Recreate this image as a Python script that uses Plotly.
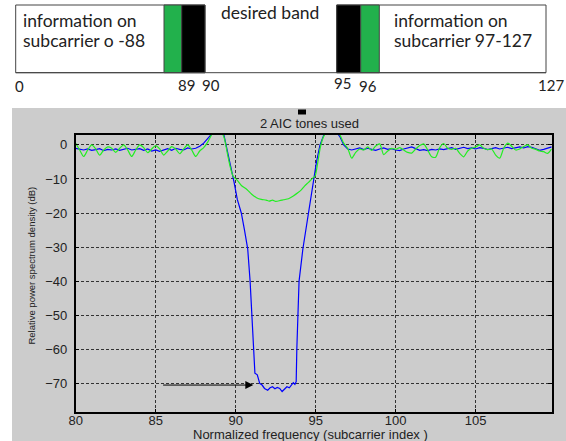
import plotly.graph_objects as go

# ---------------- data: PSD curves ----------------
blue_x = [80.0, 80.25, 80.5, 80.75, 81.0, 81.25, 81.5, 81.75, 82.0, 82.25, 82.5, 82.75,
          83.0, 83.25, 83.5, 83.75, 84.0, 84.25, 84.5, 84.75, 85.0, 85.25, 85.5, 85.75,
          86.0, 86.25, 86.5, 86.75, 87.0, 87.25, 87.5, 87.75, 88.0, 88.25, 88.5, 88.75,
          89.0, 89.25, 89.5, 89.75, 89.9, 90.1, 90.35, 90.55, 90.75, 90.9, 91.0, 91.1,
          91.15, 91.2, 91.35, 91.5, 91.65, 91.8, 92.0, 92.15, 92.3, 92.45, 92.6, 92.75,
          92.9, 93.05, 93.2, 93.35, 93.5, 93.6, 93.7, 93.78, 93.82, 93.87, 93.96, 94.2,
          94.55, 94.85, 95.05, 95.27, 95.5, 95.75, 96.0, 96.25, 96.5, 96.75,
          97.0, 97.25, 97.5, 97.75, 98.0, 98.25, 98.5, 98.75, 99.0, 99.25, 99.5, 99.75,
          100.0, 100.25, 100.5, 100.75, 101.0, 101.25, 101.5, 101.75, 102.0, 102.25, 102.5,
          102.75, 103.0, 103.25, 103.5, 103.75, 104.0, 104.25, 104.5, 104.75, 105.0, 105.25,
          105.5, 105.75, 106.0, 106.25, 106.5, 106.75, 107.0, 107.25, 107.5, 107.75, 108.0,
          108.25, 108.5, 108.75, 109.0, 109.25, 109.5, 109.75]
blue_db = [-1.0, -1.3, -1.5, -1.2, -1.6, -1.4, -1.1, -1.7, -1.3, -1.5, -1.2, -1.6,
           -1.4, -1.0, -1.5, -1.3, -1.1, -1.6, -1.2, -1.8, -1.5, -1.9, -1.4, -1.1,
           -1.6, -1.0, -1.3, -1.5, -0.9, -1.2, -1.0, -0.4, 0.5, 1.8, 3.2, 4.0,
           4.0, 3.2, -2.0, -7.5, -11.0, -16.0, -20.0, -25.0, -30.5, -40.0, -48.0, -56.0,
           -61.0, -67.0, -67.5, -70.0, -70.5, -71.5, -72.0, -71.3, -71.0, -71.6, -71.2, -71.5,
           -72.4, -71.6, -71.0, -71.3, -70.2, -69.8, -70.3, -69.5, -60.0, -50.0, -40.0, -30.5,
           -20.0, -10.0, -5.0, 0.0, 2.8, 4.2, 4.5, 4.0, 2.5, 0.0,
           -1.2, -1.5, -1.2, -0.9, -1.4, -1.0, -1.3, -1.6, -1.2, -0.9, -1.3, -1.1,
           -1.5, -1.7, -1.2, -0.8, -0.6, -1.1, -1.6, -1.4, -1.7, -1.3, -1.5,
           -1.2, -1.4, -1.1, -0.8, -1.3, -1.0, -0.7, -1.1, -0.9, -1.2, -0.8,
           -1.0, -1.4, -1.1, -0.8, -1.2, -1.0, -0.7, -1.1, -0.8, -0.6, -0.9,
           -0.5, -0.7, -1.2, -1.6, -1.3, -0.9, -0.6]

green_x = [80.0, 80.25, 80.5, 80.75, 81.0, 81.25, 81.5, 81.75, 82.0, 82.25, 82.5, 82.75,
           83.0, 83.25, 83.5, 83.75, 84.0, 84.25, 84.5, 84.75, 85.0, 85.25, 85.5, 85.75,
           86.0, 86.25, 86.5, 86.75, 87.0, 87.25, 87.5, 87.75, 88.0, 88.25, 88.5, 88.75,
           89.0, 89.25, 89.5, 89.65, 89.84, 90.1, 90.37, 90.7, 91.0, 91.3, 91.6, 91.9,
           92.1, 92.3, 92.5, 92.8, 93.0, 93.3, 93.6, 93.9, 94.1, 94.3, 94.55, 94.83,
           94.96, 95.1, 95.3, 95.5, 95.75, 96.0, 96.25, 96.5, 96.75, 97.0,
           97.25, 97.5, 97.75, 98.0, 98.25, 98.5, 98.75, 99.0, 99.25, 99.5, 99.75,
           100.0, 100.25, 100.5, 100.75, 101.0, 101.25, 101.5, 101.75, 102.0, 102.25, 102.5,
           102.75, 103.0, 103.25, 103.5, 103.75, 104.0, 104.25, 104.5, 104.75, 105.0, 105.25,
           105.5, 105.75, 106.0, 106.25, 106.5, 106.75, 107.0, 107.25, 107.5, 107.75, 108.0,
           108.25, 108.5, 108.75, 109.0, 109.25, 109.5, 109.75]
green_db = [0.5, -1.5, -3.4, -1.5, 0.0, -1.2, -3.0, -1.5, -0.6, -1.0, -2.2, -1.0,
            0.0, -1.5, -3.4, -1.5, 0.0, -0.8, -2.3, -1.2, -0.2, -1.2, -3.0, -1.8,
            -0.5, -1.2, -2.6, -1.2, 0.0, -1.5, -3.4, -1.8, -0.8, 0.8, 3.0, 4.5,
            4.2, 2.5, -3.0, -6.3, -9.2, -10.4, -12.0, -13.1, -14.5, -15.5, -16.0, -16.2,
            -16.5, -16.2, -16.6, -16.3, -16.1, -15.8, -15.0, -14.0, -13.2, -12.1, -11.0, -9.7,
            -9.2, -6.0, -0.5, 2.5, 4.0, 4.5, 4.2, 3.0, 0.5, -1.0,
            -3.9, -2.2, -1.2, -1.5, -0.6, -1.6, -0.3, 0.3, -2.9, -1.8, -1.0,
            -1.3, -0.8, -1.5, -2.2, -2.4, -1.2, -0.2, 0.3, -1.5, -3.5, -3.6,
            -0.8, 0.4, -1.0, -1.3, -1.0, -2.5, -3.5, -1.8, -1.0, -0.6, 0.0,
            -1.0, -1.4, -1.2, -3.0, -3.9, -1.0, 0.5, -0.4, -1.5, -1.2, -0.5,
            0.0, -1.0, -1.3, -1.8, -2.0, -2.5, -1.2]

x_ticks = [80, 85, 90, 95, 100, 105]
y_ticks = [0, -10, -20, -30, -40, -50, -60, -70]

arrow_from = (85.37, -70.5)
arrow_to = (91.1, -70.5)

# ---------------- data: top band diagram (diagram units = px along strip) -------------
box_left = [15.7, 205.0]
box_right = [336.7, 546.0]
box_top, box_bottom = 5.0, 72.7
seg_start = [164.0, 181.7, 336.7, 360.7]
seg_end = [181.7, 205.0, 360.7, 379.3]
seg_color = ["#22b14c", "#000000", "#000000", "#22b14c"]
diag_labels = ["0", "89", "90", "95", "96", "127"]
diag_label_x = [19.0, 186.7, 210.7, 342.7, 367.7, 551.0]
diag_label_y = [86.0, 85.0, 85.0, 82.7, 86.0, 85.0]

W, H = 566, 441


def px(xp):
    return xp / W


def py(yp):
    return 1 - yp / H


fig = go.Figure()
fig.add_trace(go.Scatter(x=blue_x, y=blue_db, mode="lines",
                         line=dict(color="#0000ff", width=1.2), showlegend=False))
fig.add_trace(go.Scatter(x=green_x, y=green_db, mode="lines",
                         line=dict(color="#22ee22", width=1.2, shape="spline", smoothing=0.7),
                         showlegend=False))

shapes = []
shapes.append(dict(type="rect", xref="paper", yref="paper", x0=px(12), x1=1,
                   y0=0, y1=py(108), fillcolor="#cccccc", line=dict(width=0), layer="below"))
shapes.append(dict(type="rect", xref="paper", yref="paper", x0=px(298), x1=px(306),
                   y0=py(114.5), y1=py(109.5), fillcolor="#000000", line=dict(width=0)))

for b in (box_left, box_right):
    shapes.append(dict(type="rect", xref="x2", yref="y2", x0=b[0], x1=b[1], y0=box_top,
                       y1=box_bottom, fillcolor="white", line=dict(color="#444444", width=1)))
for s, e, c in zip(seg_start, seg_end, seg_color):
    shapes.append(dict(type="rect", xref="x2", yref="y2", x0=s, x1=e, y0=box_top,
                       y1=box_bottom, fillcolor=c, line=dict(color="#444444", width=1)))
shapes.append(dict(type="line", xref="x2", yref="y2", x0=box_left[0], x1=box_right[1],
                   y0=box_bottom, y1=box_bottom, line=dict(color="#444444", width=1)))

annotations = []
dfont = dict(family="Lato, Liberation Sans, sans-serif", size=17.5, color="#222222")
lfont = dict(family="Lato, Liberation Sans, sans-serif", size=15, color="#222222")
for txt, xx, yy in [("information on", 20.5, 20.5), ("subcarrier o -88", 20.5, 40.5),
                    ("information on", 391.5, 20.5), ("subcarrier 97-127", 391.5, 40.5),
                    ("desired band", 219.0, 12.0)]:
    annotations.append(dict(text=txt, x=xx, y=yy, xref="x2", yref="y2", showarrow=False,
                            xanchor="left", yanchor="middle", font=dfont))
for t, xx, yy in zip(diag_labels, diag_label_x, diag_label_y):
    annotations.append(dict(text=t, x=xx, y=yy, xref="x2", yref="y2", showarrow=False,
                            xanchor="center", yanchor="middle", font=lfont))

mfont = dict(family="Liberation Sans, Arial, sans-serif", size=13, color="#222222")
annotations.append(dict(text="2 AIC tones used", x=px(309), y=py(123.3), xref="paper",
                        yref="paper", showarrow=False, xanchor="center", yanchor="middle",
                        font=mfont))
annotations.append(dict(text="Normalized frequency (subcarrier index )", x=px(310.8),
                        y=py(434.3), xref="paper", yref="paper", showarrow=False,
                        xanchor="center", yanchor="middle",
                        font=dict(family="Liberation Sans, Arial, sans-serif", size=13,
                                  color="#222222")))
annotations.append(dict(text="Relative power spectrum density (dB)", x=px(32), y=py(265.6),
                        xref="paper", yref="paper", showarrow=False, textangle=-90,
                        xanchor="center", yanchor="middle",
                        font=dict(family="Liberation Sans Narrow, Arial Narrow, Liberation Sans, Arial",
                                  size=9.5, color="#222222")))
annotations.append(dict(text="", x=arrow_to[0], y=arrow_to[1], ax=arrow_from[0],
                        ay=arrow_from[1], xref="x", yref="y", axref="x", ayref="y",
                        showarrow=True, arrowhead=2, arrowsize=1.6, arrowwidth=1,
                        arrowcolor="#000000"))

axis_common = dict(showline=True, linecolor="#000000", linewidth=1.5, mirror="ticks",
                   ticks="inside", ticklen=4, tickcolor="#000000", showgrid=True,
                   gridcolor="#333333", griddash="3px,2px", gridwidth=1, zeroline=False,
                   tickfont=mfont, automargin=False)

fig.update_layout(
    width=W, height=H, margin=dict(l=0, r=0, t=0, b=0, autoexpand=False),
    paper_bgcolor="white", plot_bgcolor="white",
    xaxis=dict(domain=[px(75.7), px(551.7)], range=[80, 109.75], tickvals=x_ticks,
               anchor="y", ticklabelstandoff=-5, **axis_common),
    yaxis=dict(domain=[py(412.3), py(135)], range=[-78.5, 2.9], tickvals=y_ticks,
               anchor="x", ticklabelstandoff=4, **axis_common),
    xaxis2=dict(domain=[0, 1], range=[0, W], visible=False, anchor="y2",
                automargin=False),
    yaxis2=dict(domain=[py(96), 1], range=[96, 0], visible=False, anchor="x2",
                automargin=False),
    shapes=shapes, annotations=annotations,
)

fig.write_html("out.html",
               config={"displayModeBar": False},
               post_script="document.body.style.margin='0';"
                           "document.documentElement.style.overflow='hidden';")
